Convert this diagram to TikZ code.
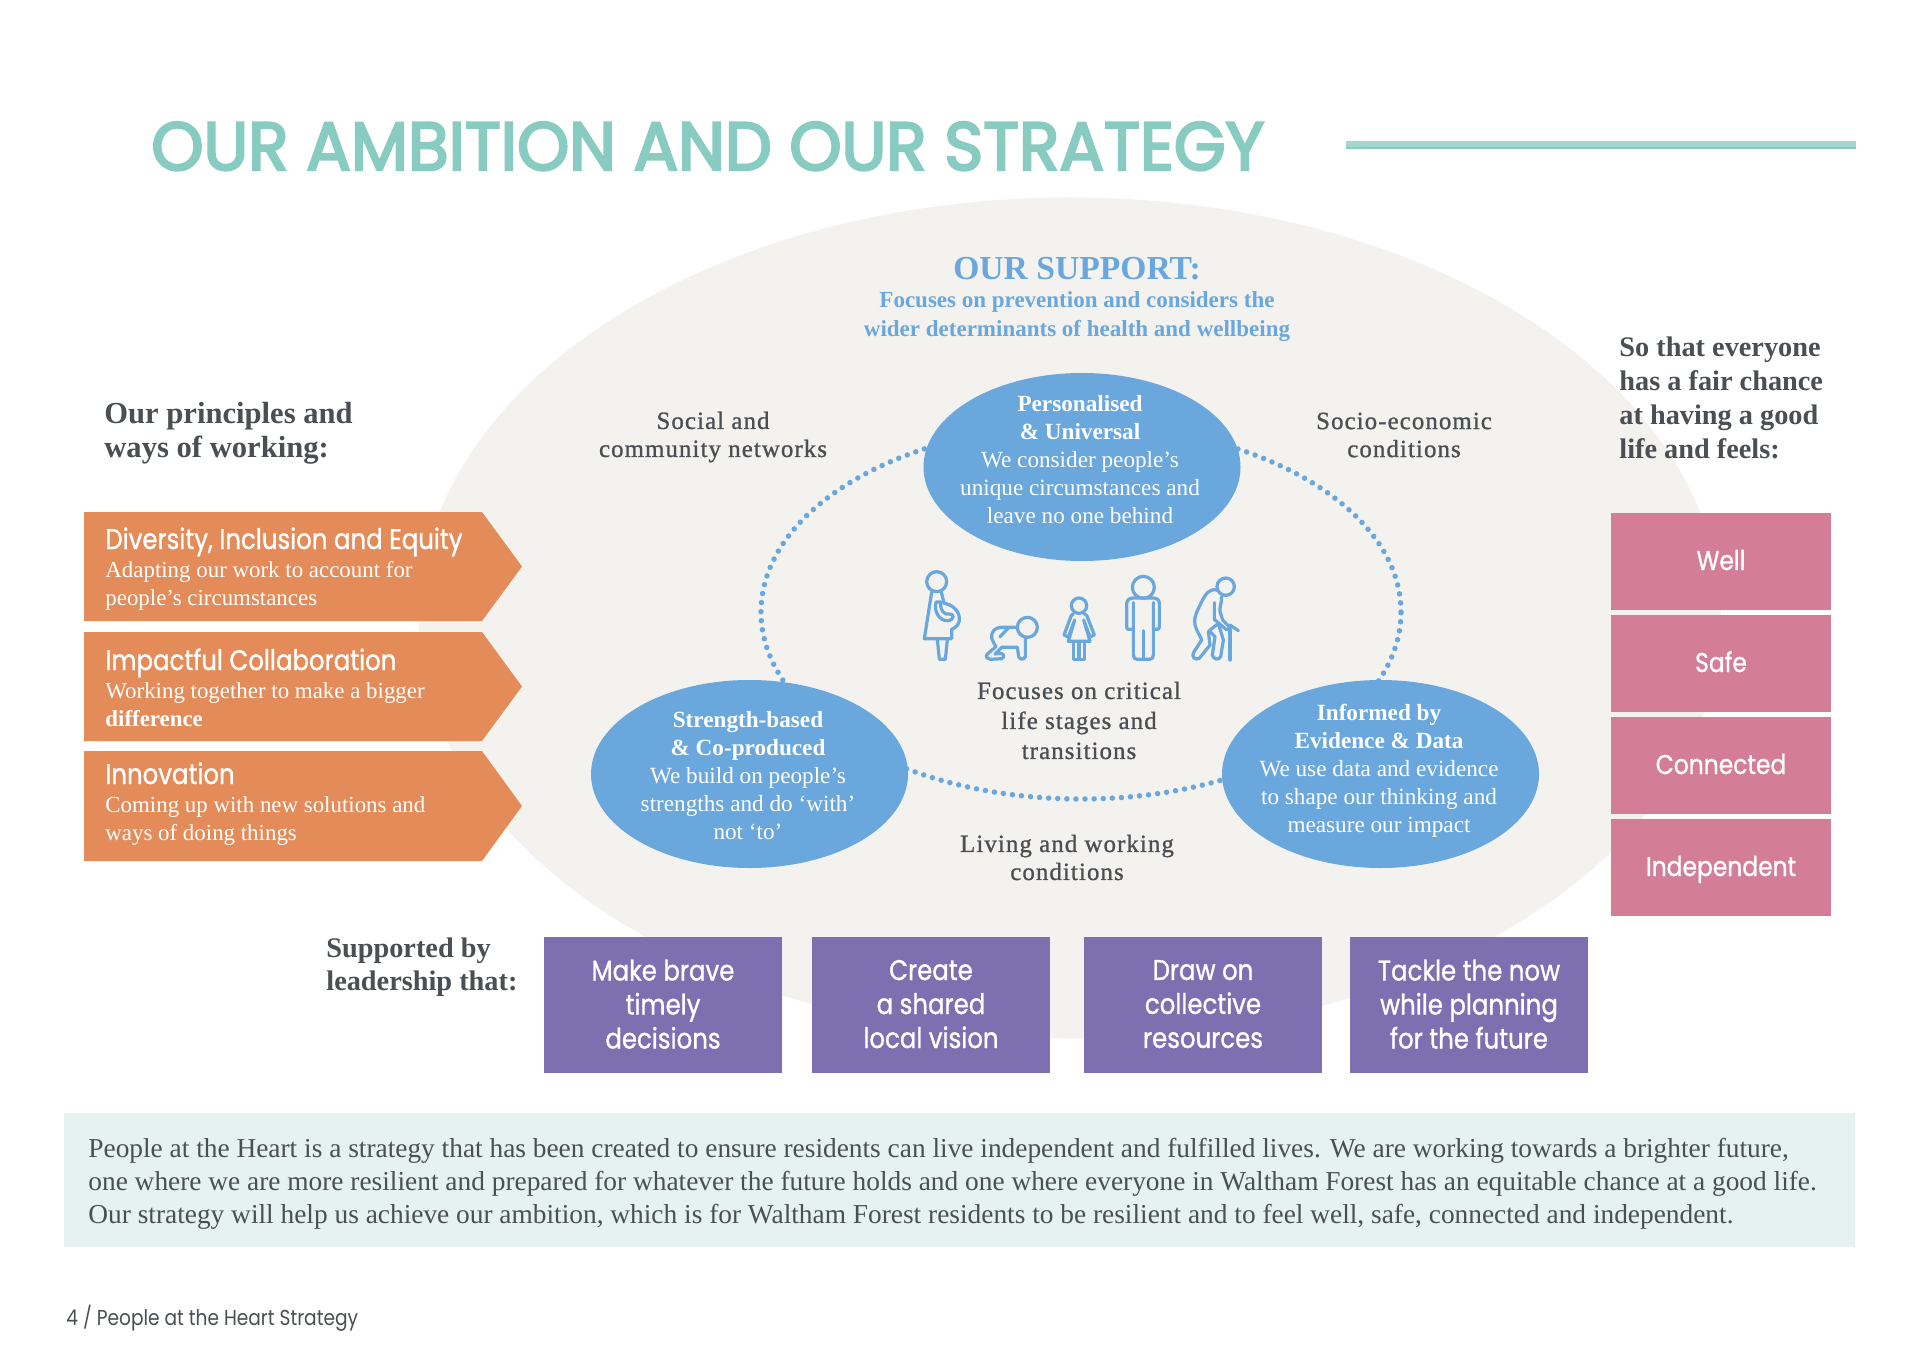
\documentclass[tikz,border=0pt]{standalone}
\usepackage{fontspec}
\usetikzlibrary{shapes.geometric}
\setmainfont{Liberation Serif}
\newfontfamily\fut[FakeStretch=0.86,FakeBold=1]{Poppins}
\newfontfamily\futl[FakeStretch=0.86]{Poppins}
\newfontfamily\futb[FakeStretch=0.975,FakeBold=3.5]{Poppins}
\newfontfamily\semi[FakeBold=1,LetterSpace=4.5]{Liberation Serif}
\definecolor{teal}{HTML}{88CBC0}
\definecolor{rulec}{HTML}{A3D7CD}
\definecolor{ruled}{HTML}{8ACCC0}
\definecolor{oval}{HTML}{F3F2EE}
\definecolor{bluec}{HTML}{6AA7DC}
\definecolor{orangec}{HTML}{E38B59}
\definecolor{pinkc}{HTML}{D47D97}
\definecolor{purplec}{HTML}{7E6FB0}
\definecolor{bandc}{HTML}{E5F2EF}
\definecolor{inkc}{HTML}{4A4F54}
\tikzset{
 x=0.5pt,y=-0.5pt,
 blob/.style={ellipse,fill=bluec,minimum width=158.5pt,minimum height=94pt,inner sep=0pt},
 blobtext/.style={align=center,text=white,inner sep=0pt,font=\fontsize{11.6}{14}\selectfont},
 head/.style={align=left,text=inkc,inner sep=0pt,anchor=west,font=\bfseries\fontsize{15.3}{17}\selectfont},
 label/.style={align=center,text=inkc,inner sep=0pt,font=\semi\fontsize{12.4}{14}\selectfont},
 pinkbox/.style={fill=pinkc,text=white,inner sep=0pt,minimum width=110pt,minimum height=48.5pt,text height=11pt,text depth=2pt,font=\fut\fontsize{13.6}{15}\selectfont},
 purplebox/.style={fill=purplec,text=white,inner sep=0pt,align=center,minimum width=119pt,minimum height=68pt,font=\fut\fontsize{14.2}{17}\selectfont},
 arrowtext/.style={align=left,text=white,inner sep=0pt,anchor=north west,font=\fontsize{11.45}{14}\selectfont},
 icon/.style={draw=bluec,line width=1.6pt,line join=round,line cap=round,fill=none},
}
\newcommand{\arrowhd}[1]{{\fut\fontsize{14.2}{14}\selectfont #1}}
\begin{document}
\begin{tikzpicture}
\useasboundingbox (0,0) rectangle (1920,1358);
\fill[white] (0,0) rectangle (1920,1358);
% title
\node[inner sep=0pt,anchor=base west,text=teal,font=\futb\fontsize{34}{40}\selectfont] (title) at (151,170) {OUR AMBITION AND OUR STRATEGY};
\fill[rulec] (1346,141) rectangle (1856,147);
\fill[ruled] (1346,147) rectangle (1856,149);
% big oval
\fill[oval] (1070,618) ellipse [x radius=651,y radius=420.5];
% ring
\node[ellipse,draw=bluec,line width=2.75pt,dash pattern=on 0pt off 4.55pt,line cap=round,minimum width=320pt,minimum height=187pt,inner sep=0pt] (ring) at (1081,612) {};
% blobs
\node[blob] (top) at (1082,467) {};
\node[blob] (left) at (749.5,774) {};
\node[blob] (right) at (1380.5,774) {};
\node[blobtext] (toptxt) at (1080,460) {\textbf{Personalised}\\\textbf{\& Universal}\\We consider people’s\\unique circumstances and\\leave no one behind};
\node[blobtext] (lefttxt) at (748,775.5) {\textbf{Strength-based}\\\textbf{\& Co-produced}\\We build on people’s\\strengths and do ‘with’\\not ‘to’};
\node[blobtext] (righttxt) at (1379,771) {\textbf{Informed by}\\\textbf{Evidence \& Data}\\We use data and evidence\\to shape our thinking and\\measure our impact};
% support
\node[inner sep=0pt,anchor=base,text=bluec,font=\bfseries\fontsize{16.8}{18}\selectfont] (sup) at (1077,280) {OUR SUPPORT:};
\node[inner sep=0pt,align=center,anchor=center,text=bluec,font=\bfseries\fontsize{11.5}{14.2}\selectfont] (supsub) at (1077,316.5) {Focuses on prevention and considers the\\wider determinants of health and wellbeing};
% labels
\node[label] (l1) at (713,437) {Social and\\community networks};
\node[label] (l2) at (1404,435) {Socio-economic\\conditions};
\node[label] (l3) at (1067,857.5) {Living and working\\conditions};
\node[label,font=\semi\fontsize{12.4}{15}\selectfont] (l4) at (1079,720.5) {Focuses on critical\\life stages and\\transitions};
% side headings
\node[head] (pr) at (104,433) {Our principles and\\ways of working:};
\node[head,font=\bfseries\fontsize{14.15}{17}\selectfont] (so) at (1619,398) {So that everyone\\has a fair chance\\at having a good\\life and feels:};
\node[head,font=\bfseries\fontsize{14.15}{16.5}\selectfont] (su) at (326,967) {Supported by\\leadership that:};
% orange arrows
\foreach \t/\b in {512/621,632/741,751/861}{
  \fill[orangec] (84,\t) -- (482,\t) -- (522,{(\t+\b)/2}) -- (482,\b) -- (84,\b) -- cycle;
}
\node[arrowtext] (a1) at (105,527) {\arrowhd{Diversity, Inclusion and Equity}\\Adapting our work to account for\\people’s circumstances};
\node[arrowtext] (a2) at (105,648) {\arrowhd{Impactful Collaboration}\\Working together to make a bigger\\\textbf{difference}};
\node[arrowtext] (a3) at (105,762) {\arrowhd{Innovation}\\Coming up with new solutions and\\ways of doing things};
% pink
\node[pinkbox] (p1) at (1721,561) {Well};
\node[pinkbox] (p2) at (1721,663) {Safe};
\node[pinkbox] (p3) at (1721,765) {Connected};
\node[pinkbox] (p4) at (1721,867) {Independent};
% purple
\node[purplebox,text depth=1pt] (b1) at (663,1005) {Make brave\\timely\\decisions};
\node[purplebox,text depth=1pt] (b2) at (931,1005) {Create\\a shared\\local vision};
\node[purplebox,text depth=1pt] (b3) at (1203,1005) {Draw on\\collective\\resources};
\node[purplebox,text depth=1pt] (b4) at (1469,1005) {Tackle the now\\while planning\\for the future};
% band
\fill[bandc] (64,1113) rectangle (1855,1247);
\node[inner sep=0pt,anchor=west,align=left,text=inkc,font=\fontsize{13.68}{16.5}\selectfont] (band) at (88,1183.5) {People at the Heart is a strategy that has been created to ensure residents can live independent and fulfilled lives. We are working towards a brighter future,\\one where we are more resilient and prepared for whatever the future holds and one where everyone in Waltham Forest has an equitable chance at a good life.\\Our strategy will help us achieve our ambition, which is for Waltham Forest residents to be resilient and to feel well, safe, connected and independent.};
\node[inner sep=0pt,anchor=base west,text=inkc,font=\futl\fontsize{10.8}{12}\selectfont] (foot) at (66,1325) {4 / People at the Heart Strategy};
% icons
\begin{scope}[shift={(880,540)},x=0.16667pt,y=-0.16667pt]
 % pregnant
 \draw[icon] (170,125) circle [radius=30];
 \draw[icon] (155,156) -- (133,296) -- (215,296) -- (215,268) .. controls (232,262) and (240,248) .. (238,232) .. controls (235,208) and (212,192) .. (192,190) -- (184,156);
 \draw[icon] (172,298) -- (178,358) -- (196,358) -- (202,298);
 \draw[icon] (168,186) .. controls (160,215) and (180,245) .. (205,242) .. controls (225,238) and (222,220) .. (208,222) .. controls (195,225) and (180,215) .. (182,186) -- cycle;
 % crawling baby
 \draw[icon] (442,262) circle [radius=30];
 \draw[icon] (412,262) -- (365,262) .. controls (345,262) and (332,275) .. (335,295) .. controls (337,305) and (345,312) .. (348,320) -- (322,342) .. controls (315,350) and (322,358) .. (330,358) -- (365,356) .. controls (375,352) and (372,342) .. (362,340) -- (345,342) -- (365,322) -- (412,322);
 \draw[icon] (412,322) -- (416,350) .. controls (420,360) and (432,360) .. (436,350) -- (436,292);
 \draw[icon] (360,290) -- (385,264);
 % girl
 \draw[icon] (597,197) circle [radius=23];
 \draw[icon] (580,222) -- (574,226) -- (552,285) -- (565,291) -- (584,240) -- (565,304) -- (630,304) -- (611,240) -- (630,291) -- (643,285) -- (620,226) -- (613,222);
 \draw[icon] (580,304) -- (580,358) -- (614,358) -- (614,304);
 \draw[icon] (597,308) -- (597,358);
 % man
 \draw[icon] (790,142) circle [radius=33];
 \draw[icon] (760,268) -- (745,268) .. controls (741,268) and (740,265) .. (740,260) -- (740,192) .. controls (740,180) and (748,174) .. (760,174) -- (820,174) .. controls (832,174) and (838,180) .. (838,192) -- (838,260) .. controls (838,265) and (836,268) .. (832,268) -- (820,268);
 \draw[icon] (760,188) -- (760,345) .. controls (760,353) and (764,358) .. (772,358) -- (808,358) .. controls (816,358) and (820,353) .. (820,345) -- (820,188);
 \draw[icon] (790,272) -- (790,358);
 % old man
 \draw[icon] (1037,140) circle [radius=26];
 \draw[icon] (1012,150) .. controls (985,145) and (975,165) .. (965,185) .. controls (950,215) and (940,235) .. (945,255) .. controls (950,275) and (960,285) .. (965,300) -- (942,335) .. controls (932,350) and (945,362) .. (958,355) -- (990,315) -- (985,275);
 \draw[icon] (1003,188) -- (1003,238) -- (1040,270) -- (1050,262) -- (1028,240) -- (1020,215) .. controls (1018,200) and (1025,190) .. (1025,170);
 \draw[icon] (985,275) .. controls (995,265) and (1010,255) .. (1015,250) -- (1030,300) -- (1022,350) .. controls (1015,362) and (1000,358) .. (997,345) -- (1005,290) -- (990,275);
 \draw[icon] (1050,268) -- (1050,360);
 \draw[icon] (1050,255) -- (1075,272);
\end{scope}
\end{tikzpicture}
\end{document}
